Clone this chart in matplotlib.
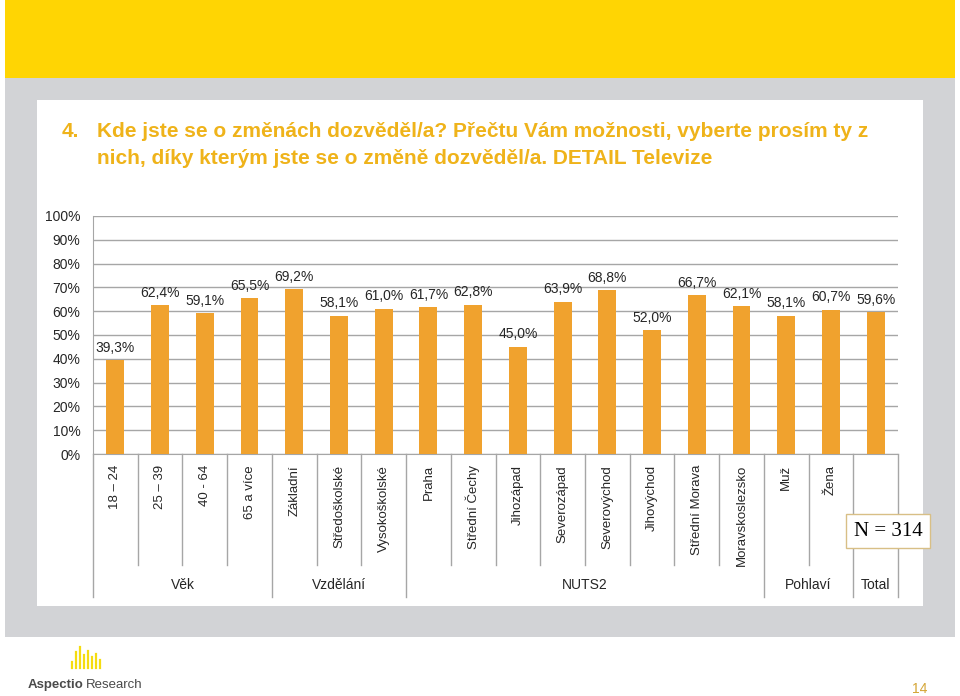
import matplotlib
matplotlib.use("Agg")
import matplotlib.pyplot as plt
from matplotlib.patches import Rectangle
from matplotlib.lines import Line2D
import numpy as np

# data
categories = ["18 \u2013 24", "25 \u2013 39", "40 - 64", "65 a více",
              "Základní", "Středoškolské", "Vysokoškolské",
              "Praha", "Střední Čechy", "Jihozápad", "Severozápad",
              "Severovýchod", "Jihovýchod", "Střední Morava", "Moravskoslezsko",
              "Muž", "Žena", ""]
values = [39.3, 62.4, 59.1, 65.5, 69.2, 58.1, 61.0, 61.7, 62.8, 45.0,
          63.9, 68.8, 52.0, 66.7, 62.1, 58.1, 60.7, 59.6]
groups = ["Věk", "Vzdělání", "NUTS2", "Pohlaví", "Total"]
group_sizes = [4, 3, 8, 2, 1]
yticks = [0, 10, 20, 30, 40, 50, 60, 70, 80, 90, 100]

title = ("Kde jste se o změnách dozvěděl/a? Přečtu Vám možnosti, vyberte prosím ty z\n"
         "nich, díky kterým jste se o změně dozvěděl/a. DETAIL Televize")

W, H = 960, 696
BAR = "#F0A22E"
GRID = "#A6A6A6"
TXT = "#262626"
TITLE_C = "#EFB31A"
FS = 10

plt.rcParams['font.family'] = ['Liberation Sans', 'DejaVu Sans']

fig = plt.figure(figsize=(W / 100, H / 100), dpi=100)
fig.patch.set_facecolor("white")


def fx(px):
    return px / W


def fy(py):
    return 1 - py / H


def add_rect(x0, y0, x1, y1, color):
    fig.patches.append(Rectangle((fx(x0), fy(y1)), fx(x1) - fx(x0), fy(y0) - fy(y1),
                                 transform=fig.transFigure, facecolor=color,
                                 edgecolor="none", zorder=-5))


# slide background
add_rect(5, 0, 955, 78, "#FFD503")
add_rect(5, 78, 955, 637, "#D2D3D6")
add_rect(37, 100, 923, 606, "white")

# title
fig.text(fx(62), fy(122), "4.", fontsize=15, fontweight="bold", color=TITLE_C,
         va="top")
fig.text(fx(97), fy(122), title, fontsize=15, fontweight="bold", color=TITLE_C,
         va="top", linespacing=1.55)

# chart axes
ax_l, ax_r, ax_t, ax_b = 93, 898, 216, 454
ax = fig.add_axes([fx(ax_l), fy(ax_b), fx(ax_r) - fx(ax_l), fy(ax_t) - fy(ax_b)])
ax.set_facecolor("white")
x = np.arange(len(values))
ax.bar(x, values, width=0.4, color=BAR, zorder=3)
ax.set_xlim(-0.5, len(values) - 0.5)
ax.set_ylim(0, 100)
ax.set_yticks(yticks)
ax.set_yticklabels([f"{t}%" for t in yticks], fontsize=FS, color=TXT)
ax.yaxis.grid(True, color=GRID, linewidth=1, zorder=0)
ax.tick_params(axis="y", length=0, pad=9)
for s in ["top", "right"]:
    ax.spines[s].set_visible(False)
ax.spines["left"].set_color(GRID)
ax.spines["bottom"].set_color(GRID)

for xi, v in zip(x, values):
    ax.annotate(f"{v:.1f}%".replace(".", ","), (xi, v), xytext=(0, 9),
                textcoords="offset points", ha="center", va="center",
                fontsize=FS, color=TXT)

ax.set_xticks(x)
ax.set_xticklabels(categories, rotation=90, fontsize=9.5, color=TXT)
ax.tick_params(axis="x", length=0, pad=8)

# separators and group labels below the axis
ah = ax_b - ax_t


def ay(py):
    return (ax_b - py) / ah


trans = ax.get_xaxis_transform()
edges = np.cumsum([0] + group_sizes)
for i in range(len(values) + 1):
    bottom = 597 if i in edges else 565
    ax.add_line(Line2D([i - 0.5, i - 0.5], [0, ay(bottom)], transform=trans,
                       color=GRID, linewidth=1, clip_on=False))
for g, a, b in zip(groups, edges[:-1], edges[1:]):
    ax.text((a + b) / 2 - 0.5, ay(585), g, transform=trans, ha="center",
            va="center", fontsize=FS, color=TXT)

# N box
fig.text(fx(888), fy(531), "N = 314", fontsize=15, family="Liberation Serif",
         ha="center", va="center", color="black",
         bbox=dict(boxstyle="square,pad=0.35", facecolor="white",
                   edgecolor="#D8BF86", linewidth=1))

# logo and page number
for lx, top in zip([72, 76, 80, 84, 88, 92, 96, 100],
                   [662, 652, 647, 655, 651, 657, 654, 660]):
    fig.add_artist(Line2D([fx(lx), fx(lx)], [fy(668), fy(top)],
                          transform=fig.transFigure, color="#F5DC10", linewidth=1.6))
fig.text(fx(28), fy(685), "Aspectio", fontsize=9.5, fontweight="bold",
         color="#4A4A4A", va="center")
fig.text(fx(86), fy(685), "Research", fontsize=9.5, color="#4A4A4A", va="center")
fig.text(fx(920), fy(689), "14", fontsize=10, color="#D4A534", ha="center", va="center")

fig.savefig("out.png", dpi=100)
